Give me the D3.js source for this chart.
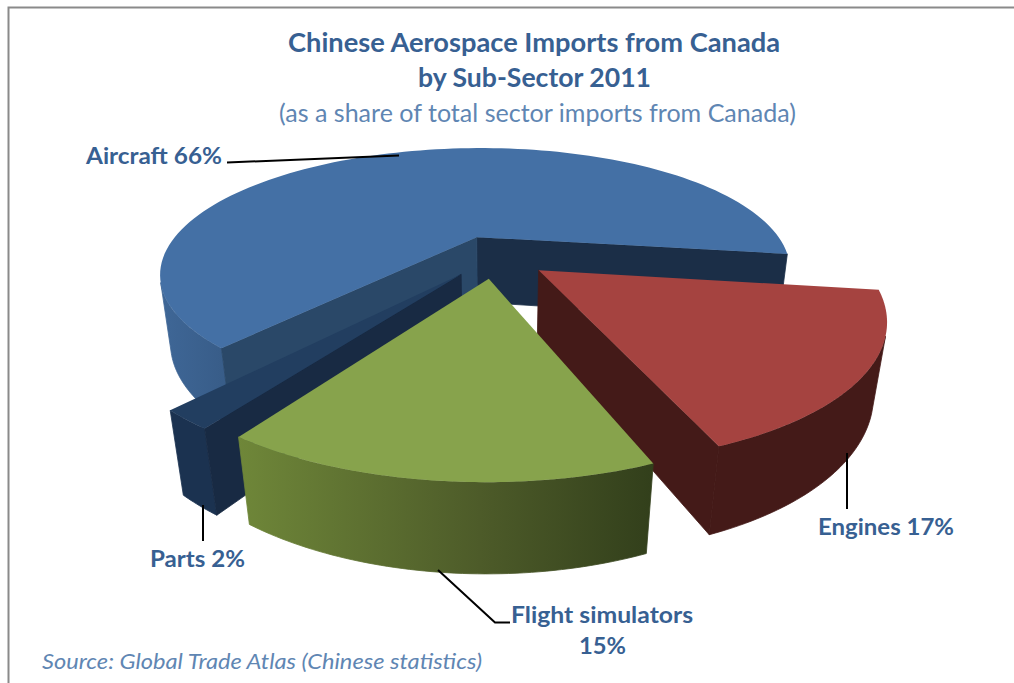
<!DOCTYPE html>
<html>
<head>
<meta charset="utf-8">
<style>
  html, body { margin: 0; background: #fff; }
  svg { display: block; }
  text { font-family: Lato, "Open Sans", sans-serif; }
</style>
<script src="https://cdn.jsdelivr.net/npm/d3@7"></script>
</head>
<body>
<svg id="chart" width="1014" height="683"></svg>
<script>
// Sub-sector shares of Chinese aerospace imports from Canada, 2011 (percent)
const categories = ["Aircraft", "Engines", "Flight simulators", "Parts"];
const shares = [66, 17, 15, 2];

const titleLines = ["Chinese Aerospace Imports from Canada", "by Sub-Sector 2011"];
const subtitle = "(as a share of total sector imports from Canada)";
const source = "Source: Global Trade Atlas (Chinese statistics)";

const INK = "#376092", SOFT_INK = "#5f86b3";

// Camera and solid: the pie is a unit disc of height `thickness`, seen in perspective.
const camera = { cx: 495, cy: 256.33, focal: 972.7, distance: 3.0749, tilt: 0.4083 };
const thickness = 0.2394, explode = 0.1711, firstAngle = -139.53 * Math.PI / 180;

// Face colours per slice, in the order of `categories`.
const faceStyles = [
  { top: "#4470a5", start: "#2a4868", end: "#1b2e47", wall: [[160, "#3f6797"], [235, "#375b86"], [700, "#1b2e47"]] },
  { top: "#a54340", start: "#441a18", end: "#441a18", wall: [[0, "#441a18"]] },
  { top: "#87a34c", start: "#33401c", end: "#33401c", wall: [[238, "#6f8739"], [480, "#4d5b29"], [654, "#323f1b"]] },
  { top: "#223e60", start: "#182a43", end: "#1b3250", wall: [[0, "#1b3250"]] }
];

const svg = d3.select("#chart");
const defs = svg.append("defs");

const sinT = Math.sin(camera.tilt), cosT = Math.cos(camera.tilt);
const eye = [0, -camera.distance * cosT, camera.distance * sinT];

function project([x, y, z]) {
  const up = y * sinT + z * cosT;
  const depth = camera.distance + y * cosT - z * sinT;
  return [camera.cx + camera.focal * x / depth, camera.cy - camera.focal * up / depth];
}

const facesEye = (p, n) =>
  (eye[0] - p[0]) * n[0] + (eye[1] - p[1]) * n[1] + (eye[2] - p[2]) * n[2] > 0;

const closedPath = d3.line().curve(d3.curveLinearClosed);

const arcs = d3.pie().sort(null)
  .startAngle(firstAngle).endAngle(firstAngle + 2 * Math.PI)(shares);

// Painter's order: the far slice first, then the ones in front of it.
const paintOrder = [0, 3, 1, 2];

paintOrder.forEach(i => {
  const arc = arcs[i], style = faceStyles[i];
  const mid = (arc.startAngle + arc.endAngle) / 2;
  const ox = explode * Math.sin(mid), oy = explode * Math.cos(mid);
  const at = (angle, r, z) => [ox + r * Math.sin(angle), oy + r * Math.cos(angle), z];
  const g = svg.append("g").attr("class", "slice").datum(categories[i]);

  const gradId = "wall" + i;
  const stops = style.wall, lastX = stops[stops.length - 1][0];
  defs.append("linearGradient").attr("id", gradId)
    .attr("gradientUnits", "userSpaceOnUse")
    .attr("x1", stops[0][0]).attr("x2", lastX || 1)
    .attr("y1", 0).attr("y2", 0)
    .selectAll("stop").data(stops).join("stop")
    .attr("offset", d => stops.length > 1 ? (d[0] - stops[0][0]) / (lastX - stops[0][0]) : 0)
    .attr("stop-color", d => d[1]);

  // Outer wall: keep only the spans of the rim that turn towards the camera.
  const steps = Math.max(12, Math.round((arc.endAngle - arc.startAngle) * 60));
  const angles = d3.range(steps + 1).map(k => arc.startAngle + (arc.endAngle - arc.startAngle) * k / steps);
  let span = [];
  const spans = [];
  angles.forEach(a => {
    if (facesEye(at(a, 1, 0), [Math.sin(a), Math.cos(a), 0])) span.push(a);
    else { if (span.length > 1) spans.push(span); span = []; }
  });
  if (span.length > 1) spans.push(span);
  spans.forEach(s => {
    const outline = s.map(a => project(at(a, 1, 0)))
      .concat(s.slice().reverse().map(a => project(at(a, 1, -thickness))));
    g.append("path").attr("d", closedPath(outline))
      .attr("fill", `url(#${gradId})`).attr("stroke", `url(#${gradId})`).attr("stroke-width", 0.8);
  });

  // Cut faces along the two radii, where they are visible.
  const radial = (angle, sign, fill) => {
    const n = [sign * Math.cos(angle), -sign * Math.sin(angle), 0];
    if (!facesEye(at(angle, 0, 0), n)) return;
    const quad = [at(0, 0, 0), at(angle, 1, 0), at(angle, 1, -thickness), at(0, 0, -thickness)].map(project);
    g.append("path").attr("d", closedPath(quad))
      .attr("fill", fill).attr("stroke", fill).attr("stroke-width", 0.8);
  };
  radial(arc.endAngle, 1, style.end);
  radial(arc.startAngle, -1, style.start);

  // Top face.
  const topAngles = d3.range(121).map(k => arc.startAngle + (arc.endAngle - arc.startAngle) * k / 120);
  const topOutline = [project(at(0, 0, 0))].concat(topAngles.map(a => project(at(a, 1, 0))));
  g.append("path").attr("d", closedPath(topOutline)).attr("fill", style.top);
});

// Frame along the top and left edges.
svg.append("path").attr("d", d3.line()([[8.5, 683], [8.5, 7.5], [1014, 7.5]]))
  .attr("fill", "none").attr("stroke", "#8a8a8a").attr("stroke-width", 2);

// Leader lines.
const leaders = [
  [[227, 162.5], [399, 155.5]],
  [[847, 453], [847, 509]],
  [[438, 570], [495, 622.5], [510, 622.5]],
  [[203, 505], [203, 541]]
];
svg.append("g").selectAll("path").data(leaders).join("path")
  .attr("d", d3.line()).attr("fill", "none").attr("stroke", "#000").attr("stroke-width", 2);

// Titles.
const title = (txt, x, y, size, len, opts = {}) =>
  svg.append("text").text(txt).attr("x", x).attr("y", y)
    .attr("font-size", size).attr("fill", opts.fill || INK)
    .attr("font-weight", opts.weight || "bold").attr("font-style", opts.style || "normal")
    .attr("textLength", len).attr("lengthAdjust", "spacingAndGlyphs");

title(titleLines[0], 288, 52, 26, 492);
title(titleLines[1], 418, 87, 26, 233);
title(subtitle, 279, 122, 24.5, 517, { weight: "normal", fill: SOFT_INK });

// Slice labels.
const pct = i => shares[i] + "%";
title(`${categories[0]} ${pct(0)}`, 86, 163.5, 23, 136);
title(`${categories[1]} ${pct(1)}`, 818, 535, 23, 136);
title(categories[2], 511, 623, 23, 182);
title(pct(2), 579, 654, 23, 47);
title(`${categories[3]} ${pct(3)}`, 150, 567, 23, 95);

title(source, 42, 669, 22, 440, { weight: "normal", style: "italic", fill: SOFT_INK });
</script>
</body>
</html>
